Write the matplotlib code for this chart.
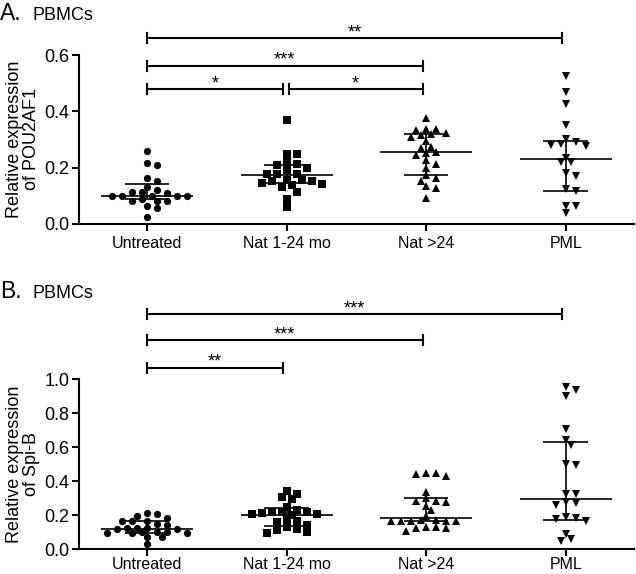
import numpy as np
import matplotlib
matplotlib.use('Agg')
import matplotlib.pyplot as plt

plt.rcParams['font.family'] = ['Liberation Sans', 'DejaVu Sans']

# ---------------- data ----------------
groups = ['Untreated', 'Nat 1-24 mo', 'Nat >24', 'PML']
markers = ['o', 's', '^', 'v']

# Panel A: POU2AF1
a_untreated = [0.26, 0.215, 0.21, 0.164, 0.153, 0.132, 0.121, 0.114, 0.114, 0.111,
               0.099, 0.099, 0.099, 0.099, 0.099, 0.088, 0.083, 0.083, 0.083,
               0.065, 0.058, 0.024]
a_nat1_24 = [0.369, 0.248, 0.248, 0.221, 0.212, 0.209, 0.198, 0.192, 0.177, 0.177,
             0.177, 0.156, 0.154, 0.156, 0.154, 0.145, 0.142, 0.138, 0.130, 0.115,
             0.088, 0.061]
a_nat24 = [0.375, 0.337, 0.334, 0.337, 0.322, 0.318, 0.316, 0.308, 0.295, 0.273,
           0.271, 0.257, 0.251, 0.245, 0.227, 0.213, 0.198, 0.174, 0.164, 0.154,
           0.135, 0.127, 0.093]
a_pml = [0.525, 0.47, 0.425, 0.351, 0.302, 0.290, 0.284, 0.280, 0.278, 0.235,
         0.219, 0.219, 0.182, 0.170, 0.123, 0.117, 0.064, 0.064, 0.038]
a_median = [0.100, 0.174, 0.257, 0.230]
a_q1 = [0.087, 0.145, 0.174, 0.118]
a_q3 = [0.142, 0.210, 0.318, 0.296]
a_sig_from = [0, 1, 0, 0]
a_sig_to = [1, 2, 2, 3]
a_sig_label = ['*', '*', '***', '**']
a_sig_level = [0.478, 0.478, 0.562, 0.659]

# Panel B: Spi-B
b_untreated = [0.212, 0.206, 0.196, 0.186, 0.168, 0.168, 0.168, 0.149, 0.143,
               0.126, 0.121, 0.126, 0.121, 0.124, 0.102, 0.096, 0.102, 0.096,
               0.100, 0.096, 0.074, 0.074, 0.031]
b_nat1_24 = [0.343, 0.323, 0.309, 0.294, 0.251, 0.231, 0.218, 0.218, 0.218, 0.212,
             0.206, 0.206, 0.202, 0.172, 0.168, 0.160, 0.143, 0.129, 0.118, 0.114,
             0.104, 0.094]
b_nat24 = [0.451, 0.447, 0.443, 0.433, 0.339, 0.300, 0.286, 0.286, 0.280, 0.257,
           0.231, 0.196, 0.172, 0.170, 0.168, 0.168, 0.168, 0.165, 0.165,
           0.130, 0.130, 0.128, 0.125, 0.108]
b_pml = [0.953, 0.937, 0.904, 0.708, 0.643, 0.614, 0.500, 0.496, 0.325, 0.324,
         0.280, 0.274, 0.260, 0.188, 0.182, 0.176, 0.168, 0.088, 0.061, 0.051]
b_median = [0.120, 0.202, 0.182, 0.296]
b_q1 = [0.095, 0.140, 0.165, 0.172]
b_q3 = [0.165, 0.240, 0.304, 0.633]
b_sig_from = [0, 0, 0]
b_sig_to = [1, 2, 3]
b_sig_label = ['**', '***', '***']
b_sig_level = [1.068, 1.229, 1.384]

a_ticks = [0.0, 0.2, 0.4, 0.6]
b_ticks = [0.0, 0.2, 0.4, 0.6, 0.8, 1.0]

# ---------------- figure ----------------
W, H, DPI = 636, 574, 100
fig = plt.figure(figsize=(W / DPI, H / DPI), dpi=DPI)

AX_L, AX_W = 79, 555
axA = fig.add_axes([AX_L / W, (H - 224) / H, AX_W / W, 169 / H])
axB = fig.add_axes([AX_L / W, (H - 549.3) / H, AX_W / W, 170 / H])

XLIM = (-0.487, 3.489)


def swarm(vals, ppu_y, ppu_x, step=5.0, dmin=6.6):
    vals = np.asarray(vals, dtype=float)
    order = np.argsort(-vals, kind='stable')
    cands = [0.0]
    for k in range(1, 14):
        cands += [k * step, -k * step]
    placed = []
    offs = np.zeros(len(vals))
    for i in order:
        y = vals[i] * ppu_y
        for o in cands:
            if all((o - px) ** 2 + (y - py) ** 2 >= dmin ** 2 for px, py in placed):
                break
        placed.append((o, y))
        offs[i] = o / ppu_x
    return offs


def panel(ax, data, med, q1, q3, ylim, ticks, ylabel, sf, st, sl, slev, xpad):
    ax.set_xlim(*XLIM)
    ax.set_ylim(*ylim)
    ppu_x = AX_W / (XLIM[1] - XLIM[0])
    bbox = ax.get_position()
    ppu_y = bbox.height * H / (ylim[1] - ylim[0])
    for i, vals in enumerate(data):
        offs = swarm(vals, ppu_y, ppu_x)
        ax.plot(i + offs, vals, linestyle='none', marker=markers[i], ms=5.2,
                mew=0, color='black', zorder=2, clip_on=False)
        ax.hlines(med[i], i - 0.33, i + 0.33, color='black', lw=1.2, zorder=3)
        ax.vlines(i, q1[i], q3[i], color='black', lw=1.2, zorder=3)
        ax.hlines([q1[i], q3[i]], i - 0.16, i + 0.16, color='black', lw=1.2, zorder=3)
    cap = 5.0 / ppu_y
    for a, b, lab, lev in zip(sf, st, sl, slev):
        x0 = a + (0.015 if a > 0 else 0.0)
        x1 = b - 0.025
        ax.plot([x0, x1], [lev, lev], color='black', lw=1.5, clip_on=False,
                solid_capstyle='butt')
        ax.plot([x0, x0], [lev - cap, lev + cap], color='black', lw=1.5, clip_on=False)
        ax.plot([x1, x1], [lev - cap, lev + cap], color='black', lw=1.5, clip_on=False)
        ax.text((x0 + x1) / 2, lev + 1.0 / ppu_y, lab, ha='center', va='baseline',
                fontsize=13)
    ax.set_yticks(ticks)
    ax.set_yticklabels(['%.1f' % t for t in ticks])
    ax.set_xticks(range(len(groups)))
    ax.set_xticklabels(groups)
    for s in ['top', 'right']:
        ax.spines[s].set_visible(False)
    for s in ['left', 'bottom']:
        ax.spines[s].set_linewidth(1.5)
    ax.tick_params(axis='y', direction='out', length=5, width=1.5, labelsize=13, pad=2)
    ax.tick_params(axis='x', direction='out', length=5, width=1.5, labelsize=11.5, pad=xpad)
    ax.set_ylabel(ylabel, fontsize=13, linespacing=1.0)
    ax.yaxis.set_label_coords(-0.07, 0.5)
    ax.patch.set_visible(False)


panel(axA, [a_untreated, a_nat1_24, a_nat24, a_pml], a_median, a_q1, a_q3,
      (0, 0.6), a_ticks, 'Relative expression\nof POU2AF1',
      a_sig_from, a_sig_to, a_sig_label, a_sig_level, 4)
panel(axB, [b_untreated, b_nat1_24, b_nat24, b_pml], b_median, b_q1, b_q3,
      (0, 1.0), b_ticks, 'Relative expression\nof Spi-B',
      b_sig_from, b_sig_to, b_sig_label, b_sig_level, 0.5)

fig.text(0 / W, 1 - 20 / H, 'A.', fontsize=16.5, ha='left', va='baseline')
fig.text(33 / W, 1 - 20 / H, 'PBMCs', fontsize=13, ha='left', va='baseline')
fig.text(0 / W, 1 - 298 / H, 'B.', fontsize=16.5, ha='left', va='baseline')
fig.text(33 / W, 1 - 298 / H, 'PBMCs', fontsize=13, ha='left', va='baseline')

fig.savefig('out.png', dpi=DPI)
